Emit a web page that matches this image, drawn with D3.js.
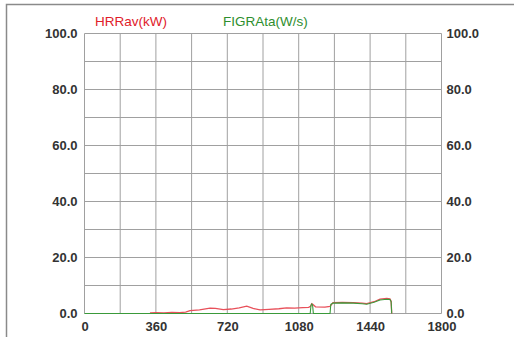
<!DOCTYPE html>
<html>
<head>
<meta charset="utf-8">
<script src="https://cdn.jsdelivr.net/npm/d3@7"></script>
<style>
  html, body { margin: 0; padding: 0; background: #fff; }
  svg { display: block; font-family: Arial, "Liberation Sans", sans-serif; }
</style>
</head>
<body>
<svg id="chart" width="514" height="337"></svg>
<script>
// Time axis (s) and value axis ticks
const xTicks = [0, 360, 720, 1080, 1440, 1800];
const yTicks = [0, 20, 40, 60, 80, 100];

// HRRav (kW) over time
const hrrTime  = [330, 360, 400, 440, 480, 510, 532, 580, 633, 660, 700, 740, 780, 818, 850, 885, 930, 980, 1019, 1060, 1100, 1130, 1140, 1146, 1152, 1165, 1212, 1238, 1253, 1300, 1355, 1400, 1423, 1460, 1490, 1524, 1540, 1546, 1549];
const hrrValue = [0.2, 0.3, 0.2, 0.4, 0.3, 0.5, 1.0, 1.3, 1.9, 1.8, 1.4, 1.6, 2.0, 2.6, 1.8, 1.3, 1.5, 1.7, 2.0, 1.9, 2.1, 2.2, 2.6, 3.5, 3.2, 2.4, 2.3, 2.5, 3.9, 4.0, 3.9, 3.7, 3.5, 4.2, 5.1, 5.4, 5.2, 4.4, 0.0];

// FIGRAta (W/s) over time
const figraTime  = [0, 1138, 1142, 1146, 1150, 1154, 1238, 1242, 1253, 1300, 1355, 1400, 1423, 1460, 1490, 1524, 1540, 1546, 1549];
const figraValue = [0, 0, 3.0, 3.4, 3.0, 0, 0, 3.3, 3.7, 3.8, 3.7, 3.5, 3.3, 4.0, 4.8, 5.1, 5.0, 4.2, 0.0];

const svg = d3.select("#chart");

// outer frame
svg.append("path")
  .attr("d", "M520,4.5 H6.5 V337")
  .attr("fill", "none").attr("stroke", "#8a8a8a").attr("stroke-width", 1.5);

const plot = { left: 84.5, right: 441.5, top: 33.5, bottom: 313.5 };

const x = d3.scaleLinear().domain([0, 1800]).range([plot.left, plot.right]);
const y = d3.scaleLinear().domain([0, 100]).range([plot.bottom, plot.top]);

const g = svg.append("g");

// grid: every 180 s and every 10 units
g.selectAll("line.vg").data(d3.range(0, 1801, 180)).join("line")
  .attr("x1", d => x(d)).attr("x2", d => x(d))
  .attr("y1", plot.top).attr("y2", plot.bottom)
  .attr("stroke", "#a0a0a0").attr("stroke-width", 1);
g.selectAll("line.hg").data(d3.range(0, 101, 10)).join("line")
  .attr("x1", plot.left).attr("x2", plot.right)
  .attr("y1", d => y(d)).attr("y2", d => y(d))
  .attr("stroke", "#a0a0a0").attr("stroke-width", 1);

// axes as text-only labels
const leftAxis = d3.axisLeft(y).tickValues(yTicks).tickFormat(d3.format(".1f")).tickSize(0).tickPadding(7);
const rightAxis = d3.axisRight(y).tickValues(yTicks).tickFormat(d3.format(".1f")).tickSize(0).tickPadding(5);
const bottomAxis = d3.axisBottom(x).tickValues(xTicks).tickFormat(d3.format("d")).tickSize(0).tickPadding(8);

function styleAxis(sel) {
  sel.select(".domain").remove();
  sel.selectAll("text").attr("fill", "#333").attr("font-size", 13).attr("font-weight", "bold")
    .attr("font-family", "Arial, 'Liberation Sans', sans-serif");
}
svg.append("g").attr("transform", `translate(${plot.left},0)`).call(leftAxis).call(styleAxis);
svg.append("g").attr("transform", `translate(${plot.right},0)`).call(rightAxis).call(styleAxis);
svg.append("g").attr("transform", `translate(0,${plot.bottom})`).call(bottomAxis).call(styleAxis);

// series lines
const line = d3.line().x(d => x(d[0])).y(d => y(d[1]));
svg.append("path")
  .datum(d3.zip(hrrTime, hrrValue))
  .attr("d", line).attr("fill", "none")
  .attr("stroke", "#e8505a").attr("stroke-width", 1.3);
svg.append("path")
  .datum(d3.zip(figraTime, figraValue))
  .attr("d", line).attr("fill", "none")
  .attr("stroke", "#3a9a3a").attr("stroke-width", 1.1);

// legend titles
svg.append("text").attr("x", 95).attr("y", 26)
  .attr("fill", "#e0202a").attr("font-size", 13.5)
  .text("HRRav(kW)");
svg.append("text").attr("x", 223).attr("y", 26)
  .attr("fill", "#2e8e2e").attr("font-size", 13.5)
  .text("FIGRAta(W/s)");
</script>
</body>
</html>
